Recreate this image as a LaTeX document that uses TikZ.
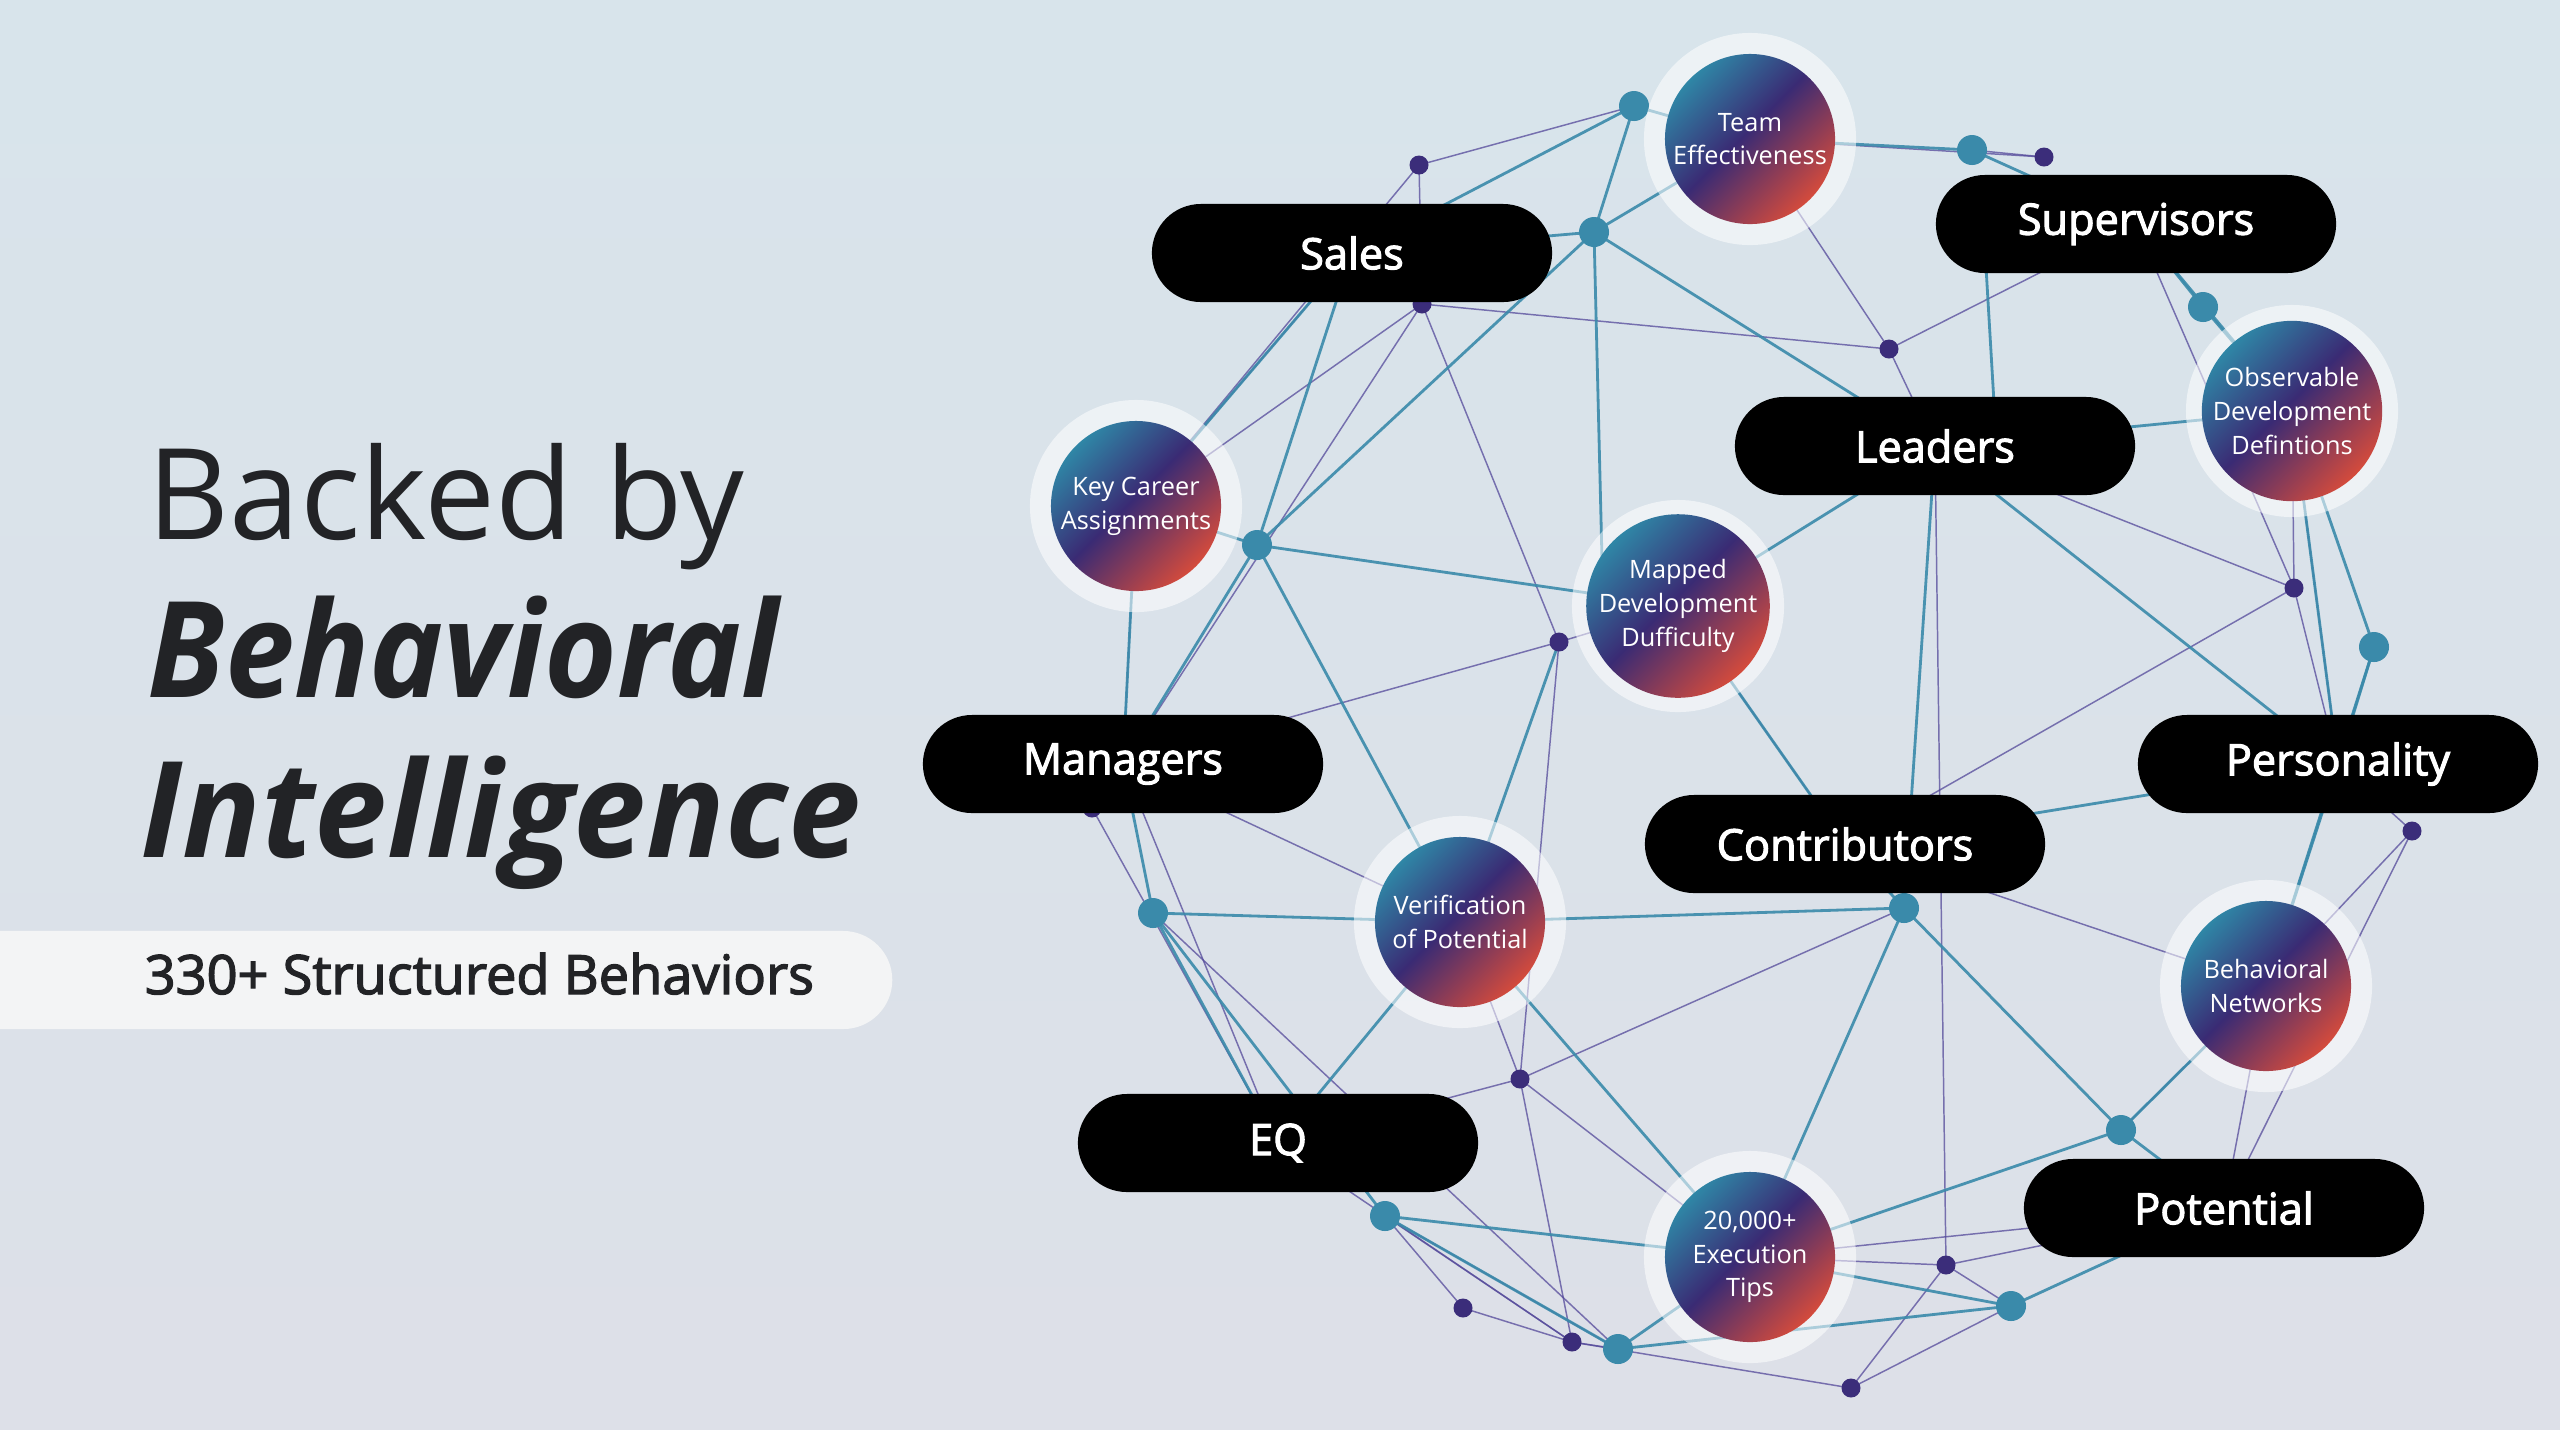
\documentclass[tikz,border=0pt]{standalone}
\usepackage{fontspec}
\setmainfont{Open Sans}
\newfontfamily\titlefontA{Open Sans}[FakeStretch=0.933]
\newfontfamily\titlefontB{Open Sans}[FakeStretch=0.975]
\newfontfamily\semifont{Open Sans}[FakeBold=2.5]
\definecolor{bgT}{HTML}{D8E4EB}
\definecolor{bgB}{HTML}{DDE0E8}
\definecolor{tealC}{HTML}{3A8AAA}
\definecolor{purpC}{HTML}{3B2D7A}
\definecolor{purpL}{HTML}{54499A}
\definecolor{orbT}{HTML}{2F86A6}
\definecolor{orbP}{HTML}{3A2B74}
\definecolor{orbR}{HTML}{D44B3C}
\definecolor{inkC}{HTML}{222326}
\definecolor{subC}{HTML}{F3F4F5}
\pgfdeclareverticalshading{orbgrad}{100bp}{color(0bp)=(orbR); color(25bp)=(orbR); color(52bp)=(orbP); color(75bp)=(orbT); color(100bp)=(orbT)}
\begin{document}
\begin{tikzpicture}[x=0.01cm,y=-0.01cm,
  tl/.style={tealC, line width=0.8pt, opacity=0.9},
  pl/.style={purpL, line width=0.42pt, opacity=0.75},
  tdot/.style={circle, fill=tealC, minimum size=0.3cm, inner sep=0},
  pdot/.style={circle, fill=purpC, minimum size=0.19cm, inner sep=0},
  pill/.style={fill=black, rounded corners=0.49cm, minimum width=4cm, minimum height=0.98cm, inner sep=0, text=white, font=\semifont\fontsize{12.3}{15}\selectfont},
  halo/.style={circle, fill=white, opacity=0.55, minimum size=2.12cm, inner sep=0},
  orb/.style={circle, shading=orbgrad, shading angle=45, minimum size=1.7cm, inner sep=0, text=white, align=center, font=\fontsize{7.2}{9.6}\selectfont}
]
\useasboundingbox (0,0) rectangle (2560,1429);
\shade[top color=bgT, bottom color=bgB] (0,0) rectangle (2560,1429);

% coordinates
\coordinate (t1) at (1634,106);
\coordinate (t2) at (1594,232);
\coordinate (t3) at (1972,150);
\coordinate (t4) at (2203,307);
\coordinate (t5) at (1257,545);
\coordinate (t6) at (2374,647);
\coordinate (t7) at (1153,913);
\coordinate (t8) at (1904,908);
\coordinate (t9) at (2121,1130);
\coordinate (t10) at (1385,1216);
\coordinate (t11) at (1618,1349);
\coordinate (t12) at (2011,1306);
\coordinate (p1) at (1419,165);
\coordinate (p2) at (2044,157);
\coordinate (p3) at (1422,304);
\coordinate (p4) at (1889,349);
\coordinate (p5) at (2294,588);
\coordinate (p6) at (1559,642);
\coordinate (p7) at (2412,831);
\coordinate (p8) at (1520,1079);
\coordinate (p9) at (1946,1265);
\coordinate (p10) at (1463,1308);
\coordinate (p11) at (1572,1342);
\coordinate (p12) at (1851,1388);
\coordinate (p13) at (1092,808);
\coordinate (team) at (1750,139);
\coordinate (key) at (1136,506);
\coordinate (obs) at (2292,411);
\coordinate (map) at (1678,606);
\coordinate (mapT) at (1602,560);
\coordinate (ver) at (1460,922);
\coordinate (beh) at (2266,986);
\coordinate (tips) at (1750,1257);
\coordinate (sales) at (1352,253);
\coordinate (sup) at (2136,224);
\coordinate (supL) at (1985,250);
\coordinate (lead) at (1935,446);
\coordinate (leadT) at (1995,420);
\coordinate (man) at (1123,764);
\coordinate (pers) at (2338,764);
\coordinate (cont) at (1845,844);
\coordinate (eq) at (1278,1143);
\coordinate (pot) at (2224,1208);

% purple edges
\foreach \a/\b in {p1/t1, p1/p3, p1/key, team/p2, t3/p2, p3/p4, p4/sup, p4/lead, team/p4,
  lead/p9, lead/p5, obs/p5, p5/pers, p5/cont, sup/p5, p7/pers, p7/beh, p7/pot, cont/beh,
  t8/p8, map/cont, p6/map, p6/man, p6/p8, p3/p6, p3/key, p3/man, key/man, man/p13,
  p13/eq, man/eq, man/ver, ver/p8, p8/eq, p8/tips, p8/p11, t10/p11, p10/p11, p10/t10,
  p11/p12, p11/t11, t10/t11, tips/p9, p9/pot, p9/p12, t12/p12, p9/t12, beh/t9, tips/pot,
  sales/key, t7/t11, eq/p11, beh/pot, obs/pers}
  \draw[pl] (\a) -- (\b);

% teal edges
\foreach \a/\b in {t1/t2, t1/sales, t1/team, t2/team, t2/sales, t2/t5, t2/mapT, t2/lead,
  team/t3, t3/sup, sup/t4, t4/obs, sup/obs, supL/leadT, lead/obs, lead/map, lead/t8,
  lead/pers, obs/t6, obs/pers, t6/pers, pers/cont, pers/beh, t8/t9, t8/tips, t8/ver,
  map/cont, map/t5, p6/ver, t5/key, t5/sales, t5/man, t5/ver, key/man, man/t7, t7/ver,
  t7/eq, t7/t10, ver/eq, ver/tips, t10/tips, t11/tips, t11/t12, tips/t12, tips/t9,
  t12/pot, t9/beh, t9/pot, t6/beh, key/sales, t8/cont, t10/t11}
  \draw[tl] (\a) -- (\b);

% dots
\foreach \n in {t1,t2,t3,t4,t5,t6,t7,t8,t9,t10,t11,t12}
  \node[tdot] (\n N) at (\n) {};
\foreach \n in {p1,p2,p3,p4,p5,p6,p7,p8,p9,p10,p11,p12,p13}
  \node[pdot] (\n N) at (\n) {};

% orbs
\foreach \n in {team,key,obs,map,ver,beh,tips}
  \node[halo] (\n H) at (\n) {};
\node[orb] (teamN) at (team) {Team\\Effectiveness};
\node[orb] (keyN) at (key) {Key Career\\Assignments};
\node[orb] (obsN) at (obs) {Observable\\Development\\Defintions};
\node[orb] (mapN) at (map) {Mapped\\Development\\Dufficulty};
\node[orb] (verN) at (ver) {Verification\\of Potential};
\node[orb] (behN) at (beh) {Behavioral\\Networks};
\node[orb] (tipsN) at (tips) {20,000+\\Execution\\Tips};

% pills
\node[pill] (salesN) at (sales) {Sales};
\node[pill] (supN) at (sup) {Supervisors};
\node[pill] (leadN) at (lead) {Leaders};
\node[pill] (manN) at (man) {Managers};
\node[pill] (persN) at (pers) {Personality};
\node[pill] (contN) at (cont) {Contributors};
\node[pill] (eqN) at (eq) {EQ};
\node[pill] (potN) at (pot) {Potential};

% title
\node[anchor=base west, inner sep=0, text=inkC, font=\fontsize{36}{40}\selectfont] (title1) at (147,539) {Backed by};
\node[anchor=base west, inner sep=0, text=inkC, font=\titlefontA\bfseries\itshape\fontsize{38}{42}\selectfont] (title2) at (147,697) {Behavioral};
\node[anchor=base west, inner sep=0, text=inkC, font=\titlefontB\bfseries\itshape\fontsize{38}{42}\selectfont] (title3) at (140,857) {Intelligence};

\node[fill=subC, rounded corners=0.49cm, minimum width=9.9cm, minimum height=0.98cm, inner sep=0, anchor=east] (subpill) at (893,980) {};
\node[anchor=base west, inner sep=0, text=inkC, font=\semifont\fontsize{15.4}{18}\selectfont] (subtext) at (144,994) {330+ Structured Behaviors};
\end{tikzpicture}
\end{document}
